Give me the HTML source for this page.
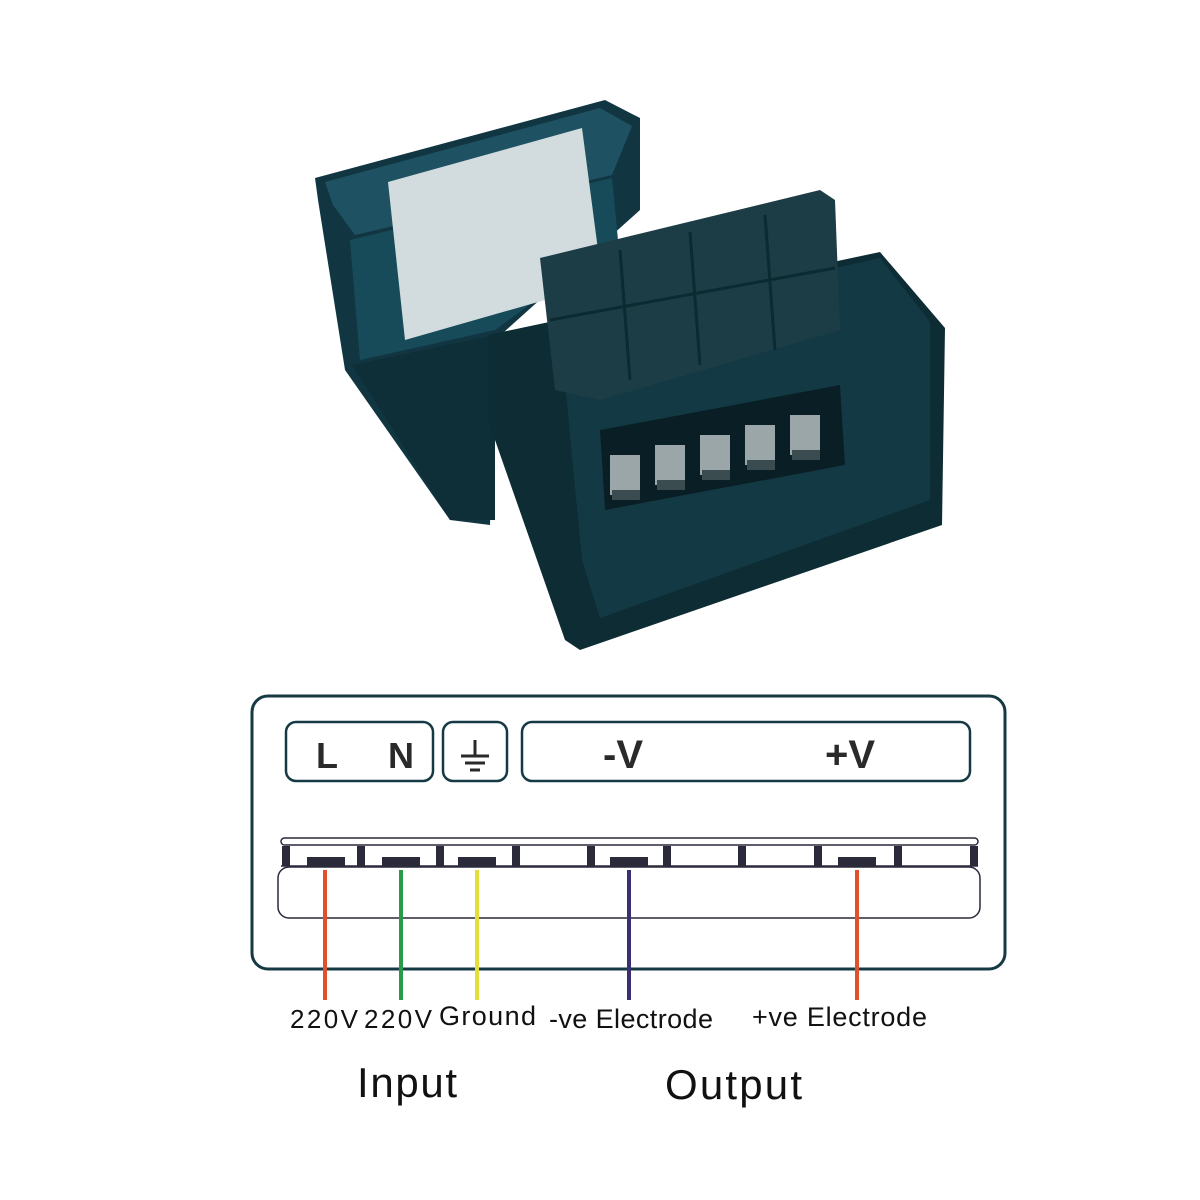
<!DOCTYPE html>
<html><head><style>
html,body{margin:0;padding:0;background:#fff;}
body{width:1200px;height:1200px;position:relative;overflow:hidden;font-family:"Liberation Sans",sans-serif;}
</style></head><body>
<svg width="1200" height="1200" viewBox="0 0 1200 1200" style="position:absolute;left:0;top:0">
<g>
  <polygon points="315,178 605,100 640,118 640,210 495,340 490,525 450,520 345,370 318,200" fill="#113642"/>
  <polygon points="325,182 600,108 632,126 612,175 355,235 333,205" fill="#1e5262"/>
  <polygon points="350,240 612,178 618,240 495,330 360,360" fill="#184b5a"/>
  <polygon points="388,182 582,128 598,250 545,300 405,340" fill="#d2dcdf"/>
  <polygon points="352,365 495,335 495,520 450,520" fill="#0e2f38"/>
  <polygon points="488,335 880,252 945,328 942,525 580,650 565,640 488,420" fill="#0d2c34"/>
  <polygon points="560,330 880,258 930,322 930,500 600,618 582,560" fill="#133a44"/>
  <polygon points="540,258 820,190 835,200 840,330 600,400 555,390" fill="#1d3d46"/>
  <g stroke="#0b2a31" stroke-width="3" fill="none">
    <line x1="620" y1="250" x2="630" y2="380"/><line x1="690" y1="232" x2="700" y2="365"/><line x1="765" y1="215" x2="775" y2="350"/>
    <line x1="550" y1="320" x2="835" y2="268"/>
  </g>
  <polygon points="600,430 840,385 845,465 605,510" fill="#0a1f25"/>
  <g fill="#9aa6a8">
    <rect x="610" y="455" width="30" height="40"/><rect x="655" y="445" width="30" height="40"/><rect x="700" y="435" width="30" height="40"/><rect x="745" y="425" width="30" height="40"/><rect x="790" y="415" width="30" height="40"/>
  </g>
  <g fill="#3a4c50">
    <rect x="612" y="490" width="28" height="10"/><rect x="657" y="480" width="28" height="10"/><rect x="702" y="470" width="28" height="10"/><rect x="747" y="460" width="28" height="10"/><rect x="792" y="450" width="28" height="10"/>
  </g>
</g>
<rect x="252" y="696" width="753" height="273" rx="16" fill="#fff" stroke="#163a44" stroke-width="3"/>
<rect x="286" y="722" width="147" height="59" rx="10" fill="#fff" stroke="#163a44" stroke-width="2.5"/>
<rect x="443" y="722" width="64" height="59" rx="10" fill="#fff" stroke="#163a44" stroke-width="2.5"/>
<rect x="522" y="722" width="448" height="59" rx="10" fill="#fff" stroke="#163a44" stroke-width="2.5"/>
<g font-family="Liberation Sans, sans-serif" font-weight="bold" fill="#2a2a2a">
  <text x="316" y="768" font-size="36">L</text>
  <text x="388" y="768" font-size="36">N</text>
  <text x="603" y="768" font-size="40">-V</text>
  <text x="825" y="768" font-size="40">+V</text>
</g>
<g stroke="#2a2a2a" stroke-width="3">
  <line x1="475" y1="740" x2="475" y2="755"/><line x1="461" y1="756" x2="489" y2="756"/><line x1="465" y1="763" x2="485" y2="763"/><line x1="470" y1="770" x2="480" y2="770"/>
</g>
<rect x="281" y="838" width="697" height="7" rx="3.5" fill="#fff" stroke="#2a2a3a" stroke-width="1.5"/>
<line x1="281" y1="866" x2="978" y2="866" stroke="#2a2a3a" stroke-width="1.5"/>
<g fill="#2a2a3a">
  <rect x="282" y="846" width="8" height="20"/><rect x="357" y="846" width="8" height="20"/><rect x="436" y="846" width="8" height="20"/>
  <rect x="512" y="846" width="8" height="20"/><rect x="587" y="846" width="8" height="20"/><rect x="663" y="846" width="8" height="20"/>
  <rect x="738" y="846" width="8" height="20"/><rect x="814" y="846" width="8" height="20"/><rect x="894" y="846" width="8" height="20"/><rect x="970" y="846" width="8" height="20"/>
  <rect x="307" y="857" width="38" height="9"/><rect x="382" y="857" width="38" height="9"/><rect x="458" y="857" width="38" height="9"/>
  <rect x="610" y="857" width="38" height="9"/><rect x="838" y="857" width="38" height="9"/>
</g>
<rect x="278" y="867" width="702" height="51" rx="11" fill="none" stroke="#2a2a3a" stroke-width="1.5"/>
<g stroke-width="4">
  <line x1="325" y1="870" x2="325" y2="1000" stroke="#e0502a"/>
  <line x1="401" y1="870" x2="401" y2="1000" stroke="#2a9a48"/>
  <line x1="477" y1="870" x2="477" y2="1000" stroke="#e3de3a"/>
  <line x1="629" y1="870" x2="629" y2="1000" stroke="#3a3070"/>
  <line x1="857" y1="870" x2="857" y2="1000" stroke="#e0502a"/>
</g>
<g font-family="Liberation Sans, sans-serif" fill="#111">
  <text x="290" y="1028" font-size="26" textLength="68">220V</text>
  <text x="364" y="1028" font-size="26" textLength="68">220V</text>
  <text x="439" y="1025" font-size="27" textLength="97">Ground</text>
  <text x="549" y="1028" font-size="27" textLength="164">-ve Electrode</text>
  <text x="752" y="1026" font-size="27" textLength="175">+ve Electrode</text>
  <text x="357" y="1097" font-size="42" textLength="100">Input</text>
  <text x="665" y="1099" font-size="42" textLength="137">Output</text>
</g>
</svg>
</body></html>
